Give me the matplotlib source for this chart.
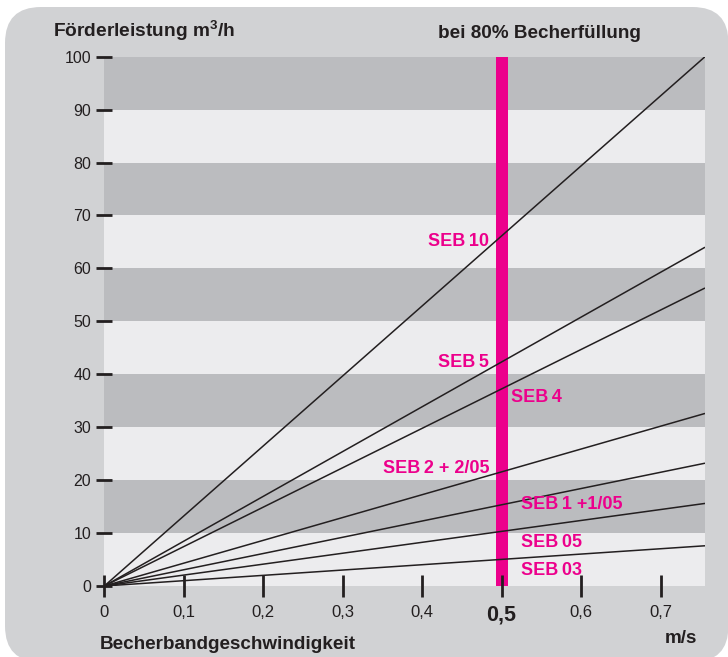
import matplotlib
matplotlib.use("Agg")
import matplotlib.pyplot as plt
from matplotlib.patches import FancyBboxPatch
from matplotlib.transforms import IdentityTransform

plt.rcParams["mathtext.fontset"] = "custom"
plt.rcParams["mathtext.rm"] = "Liberation Sans:bold"
plt.rcParams["mathtext.bf"] = "Liberation Sans:bold"

# ---- data ----
series_names = ["SEB 10", "SEB 5", "SEB 4", "SEB 2 + 2/05", "SEB 1 +1/05", "SEB 05", "SEB 03"]
x_end = 0.756                       # right edge of chart (m/s)
y_end = [100, 64.0, 56.3, 32.6, 23.2, 15.6, 7.6]   # m3/h at right edge
label_x = [0.4845, 0.4845, 0.512, 0.4845, 0.5244, 0.5244, 0.5244]
label_y = [64.3, 41.3, 34.8, 21.4, 14.6, 7.4, 2.1]
label_ha = ["right", "right", "left", "right", "left", "left", "left"]
x_ticks = [0, 0.1, 0.2, 0.3, 0.4, 0.5, 0.6, 0.7]
x_tick_labels = ["0", "0,1", "0,2", "0,3", "0,4", "0,5", "0,6", "0,7"]
y_ticks = [0, 10, 20, 30, 40, 50, 60, 70, 80, 90, 100]
marker_speed = 0.5

BG = "#d1d2d4"
DARK = "#bbbcbf"
LIGHT = "#ececee"
MAG = "#ec008c"
INK = "#231f20"
NARROW = ["Liberation Sans Narrow", "Liberation Sans", "DejaVu Sans"]
BOLD = ["Liberation Sans", "DejaVu Sans"]

W, H = 728, 657
fig = plt.figure(figsize=(W / 100, H / 100), dpi=100, facecolor="white")

bg = FancyBboxPatch((5, -5), 723.5, 655, boxstyle="round,pad=0,rounding_size=36",
                    transform=IdentityTransform(), facecolor=BG, edgecolor="none", zorder=-10)
fig.patches.append(bg)

ax = fig.add_axes([104.3 / W, 1 - 586 / H, (705 - 104.3) / W, (586 - 56.7) / H])
ax.set_zorder(1)
ax.set_xlim(0, x_end)
ax.set_ylim(0, 100)
ax.set_facecolor(LIGHT)
for lo in range(10, 100, 20):
    ax.axhspan(lo, lo + 10, color=DARK, lw=0, zorder=0.5)
for s in ax.spines.values():
    s.set_visible(False)

ax.axvspan(marker_speed - 0.0076, marker_speed + 0.0076, color=MAG, lw=0, zorder=1)

for ye in y_end:
    ax.plot([0, x_end], [0, ye], color=INK, lw=1.1, zorder=2, solid_capstyle="butt")

for name, lx, ly, ha in zip(series_names, label_x, label_y, label_ha):
    ax.text(lx, ly, name.replace("SEB ", "SEB\u2009"), color=MAG, fontsize=13,
            fontweight="bold", family=BOLD, ha=ha, va="baseline", zorder=3)

ax.set_yticks(y_ticks)
ax.set_yticklabels([str(v) for v in y_ticks], family=NARROW, fontsize=11.5, color=INK)
ax.tick_params(axis="y", direction="inout", length=12, width=2, color=INK, pad=3.5)
ax.set_xticks(x_ticks)
ax.set_xticklabels(x_tick_labels, family=NARROW, fontsize=12, color=INK)
ax.tick_params(axis="x", direction="inout", length=16, width=2, color=INK, pad=5.5)
for t, lab in zip(ax.get_xticklabels(), x_tick_labels):
    if lab == "0,5":
        t.set_fontsize(15.5)
        t.set_fontweight("bold")
for tl in ax.xaxis.get_ticklines() + ax.yaxis.get_ticklines():
    tl.set_zorder(4)
ax.set_axisbelow(False)

def ftext(px, py_base, s, **kw):
    fig.text(px / W, 1 - py_base / H, s, va="baseline", color=INK,
             fontweight="bold", family=BOLD, zorder=5, **kw)

ftext(53, 37.3, "Förderleistung m$^{3}$/h", fontsize=13.8, ha="left")
ftext(640.7, 37.5, "bei 80% Becherfüllung", fontsize=13.6, ha="right")
ftext(100, 649, "Becherbandgeschwindigkeit", fontsize=13.6, ha="left")
ftext(697, 643, "m/s", fontsize=13.6, ha="right")

fig.savefig("out.png", dpi=100, facecolor="white")
